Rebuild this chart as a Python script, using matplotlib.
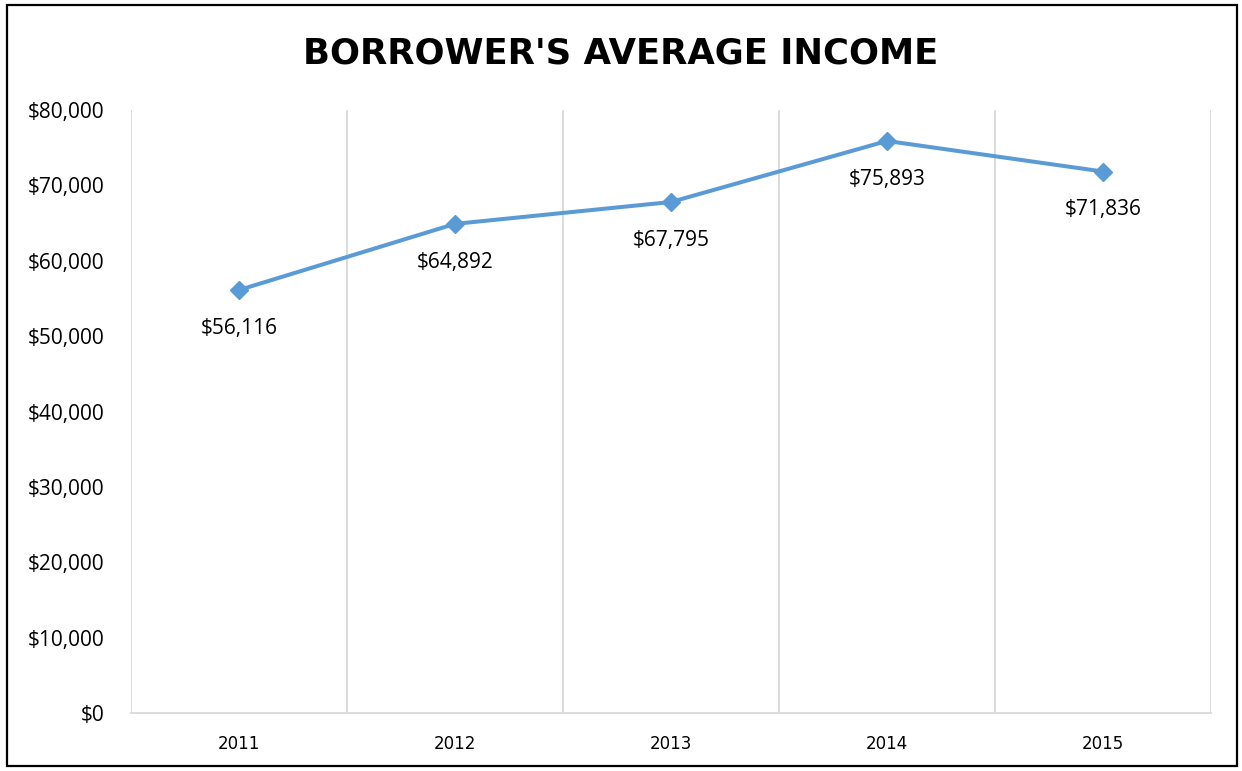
import matplotlib
matplotlib.use("Agg")
from matplotlib import pyplot as plt
from matplotlib.patches import Rectangle
from matplotlib.ticker import FuncFormatter, MultipleLocator

years = ['2011', '2012', '2013', '2014', '2015']
avg_income = [56116, 64892, 67795, 75893, 71836]

plt.rcParams['font.family'] = ['Open Sans', 'DejaVu Sans']

fig = plt.figure(figsize=(12.42, 7.71), dpi=100)
ax = fig.add_axes([131 / 1242, 1 - 713 / 771, (1211 - 131) / 1242, (713 - 110) / 771])

xs = list(range(1, len(years) + 1))
line_color = '#5B9BD5'
ax.plot(xs, avg_income, color=line_color, lw=2.9, marker='D', markersize=9.5, zorder=3)

# data labels under each point
for x, v in zip(xs, avg_income):
    ax.annotate(f"${v:,}", (x, v), xytext=(0, -27.5), textcoords='offset points',
                ha='center', va='center', fontsize=15, color='#000000')

ax.set_xlim(0.5, len(years) + 0.5)
ax.set_ylim(0, 80000)
ax.yaxis.set_major_locator(MultipleLocator(10000))
ax.yaxis.set_major_formatter(FuncFormatter(lambda v, p: f"${v:,.0f}"))
ax.set_xticks(xs)
ax.set_xticklabels(years, family='DejaVu Sans')

# vertical grid at category boundaries, Excel style
for b in [i + 0.5 for i in range(len(years) + 1)]:
    ax.axvline(b, color='#D9D9D9', lw=1.3, zorder=1)

for s in ['top', 'right', 'left']:
    ax.spines[s].set_visible(False)
ax.spines['bottom'].set_color('#D9D9D9')
ax.spines['bottom'].set_linewidth(1.3)
ax.tick_params(axis='both', length=0)
ax.tick_params(axis='y', labelsize=15, pad=19, labelcolor='#000000')
ax.tick_params(axis='x', labelsize=12, pad=16, labelcolor='#000000')

fig.text(0.5, 1 - 53 / 771, "BORROWER'S AVERAGE INCOME", ha='center', va='center',
         fontsize=25.5, fontweight='bold', family='DejaVu Sans', color='#000000')

# outer frame
fig.patches.append(Rectangle((7 / 1242, 5 / 771), 1230 / 1242, 761 / 771,
                             transform=fig.transFigure, fill=False,
                             edgecolor='#000000', lw=1.6))

fig.savefig("out.png", dpi=100)
